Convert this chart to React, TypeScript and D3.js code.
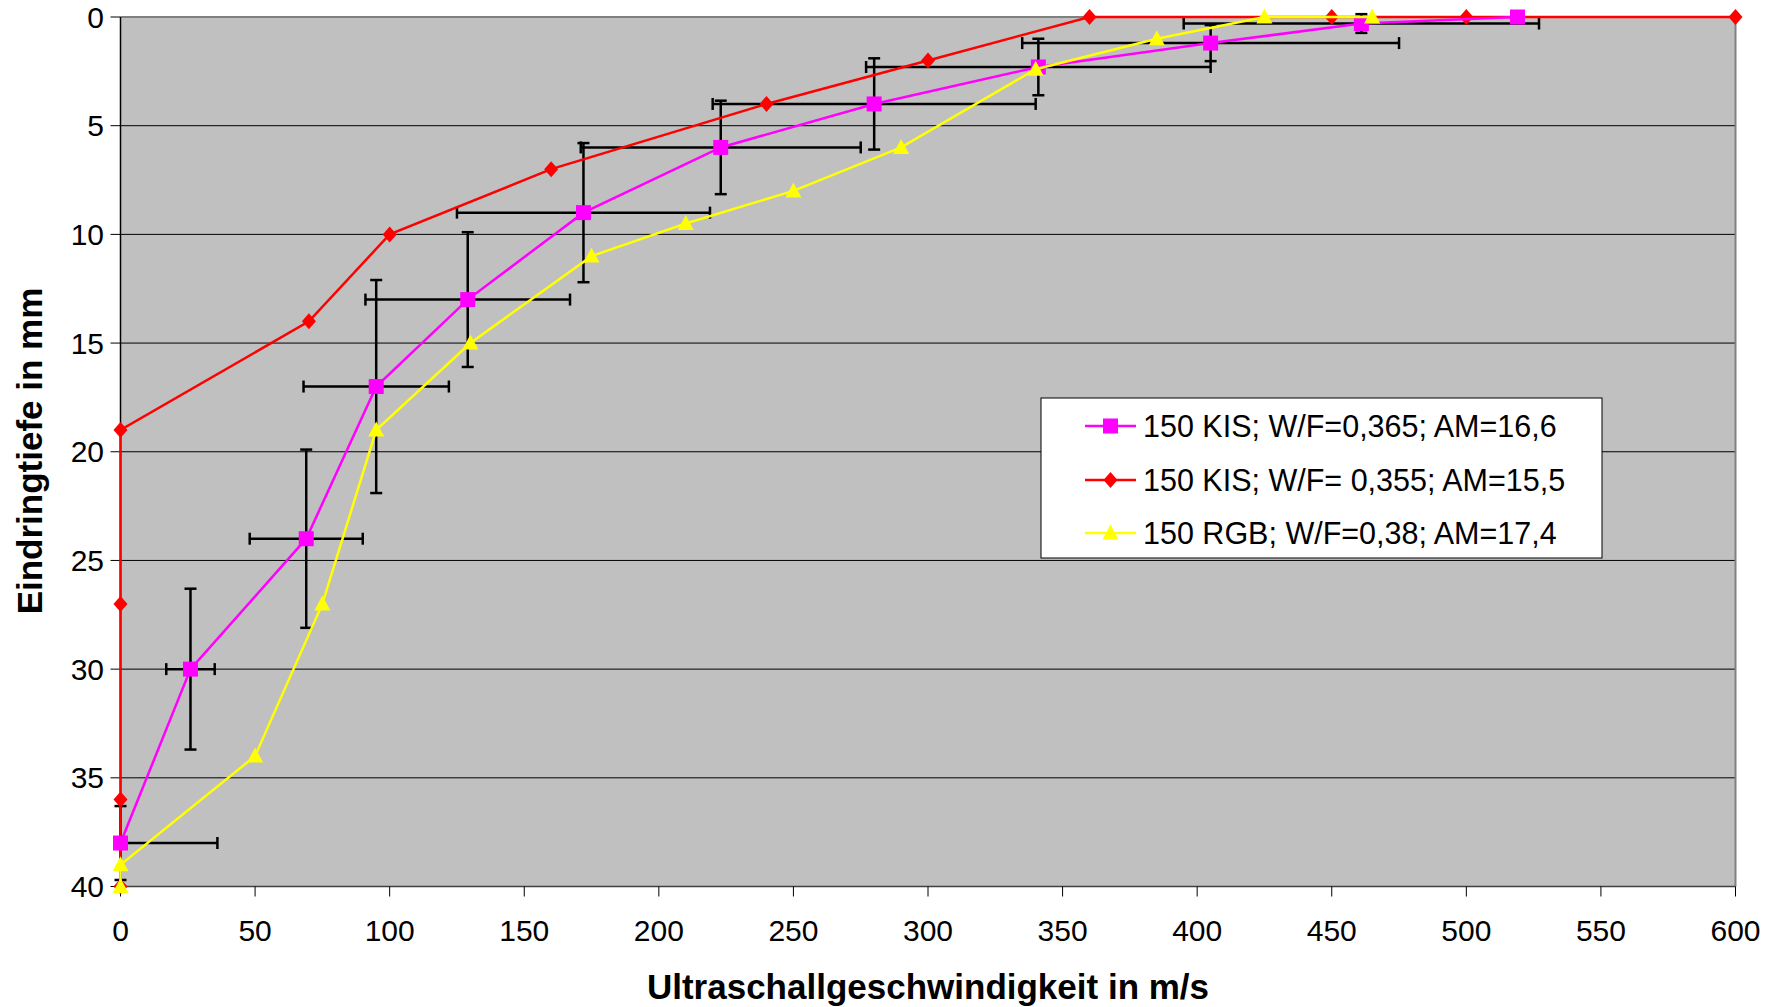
import React from "react";
import * as d3 from "d3";

const W = 1782;
const H = 1007;

const xTicks = [0, 50, 100, 150, 200, 250, 300, 350, 400, 450, 500, 550, 600];
const yTicks = [0, 5, 10, 15, 20, 25, 30, 35, 40];

// 150 KIS; W/F=0,365; AM=16,6 (magenta, with error bars)
const kisAX = [0, 26, 69, 95, 129, 172, 223, 280, 341, 405, 461, 519];
const kisAY = [38, 30, 24, 17, 13, 9, 6, 4, 2.3, 1.2, 0.3, 0];
const kisAErrX = [36, 9, 21, 27, 38, 47, 52, 60, 64, 70, 66, 0];
const kisAErrY = [1.7, 3.7, 4.1, 4.9, 3.1, 3.2, 2.15, 2.1, 1.3, 0.83, 0.43, 0];

// 150 KIS; W/F= 0,355; AM=15,5 (red)
const kisBX = [0, 0, 0, 0, 70, 100, 160, 240, 300, 360, 450, 500, 600];
const kisBY = [40, 36, 27, 19, 14, 10, 7, 4, 2, 0, 0, 0, 0];

// 150 RGB; W/F=0,38; AM=17,4 (yellow)
const rgbX = [0, 0, 50, 75, 95, 130, 175, 210, 250, 290, 340, 385, 425, 465];
const rgbY = [40, 39, 34, 27, 19, 15, 11, 9.5, 8, 6, 2.4, 1, 0, 0];

const legendLabels = [
  "150 KIS; W/F=0,365; AM=16,6",
  "150 KIS; W/F= 0,355; AM=15,5",
  "150 RGB; W/F=0,38; AM=17,4",
];

const FONT = "'Liberation Sans', Arial, sans-serif";

const L = 120.5, R = 1735.5, T = 17, B = 886.5;

function Marker({ kind, cx, cy }: { kind: string; cx: number; cy: number }) {
  if (kind === "square") {
    return <rect x={cx - 7.5} y={cy - 7.5} width={15} height={15} fill="#FF00FF" />;
  }
  if (kind === "diamond") {
    return (
      <path
        d={`M${cx},${cy - 8}L${cx + 7},${cy}L${cx},${cy + 8}L${cx - 7},${cy}Z`}
        fill="#FF0000"
      />
    );
  }
  return (
    <path
      d={`M${cx},${cy - 8.5}L${cx + 8},${cy + 6.5}L${cx - 8},${cy + 6.5}Z`}
      fill="#FFFF00"
    />
  );
}

export default function App() {
  const x = d3.scaleLinear().domain([0, 600]).range([L, R]);
  const y = d3.scaleLinear().domain([0, 40]).range([T, B]);
  const line = d3
    .line<[number, number]>()
    .x((d) => x(d[0]))
    .y((d) => y(d[1]));

  const series = [
    { xs: kisBX, ys: kisBY, color: "#FF0000", kind: "diamond" },
    { xs: kisAX, ys: kisAY, color: "#FF00FF", kind: "square" },
    { xs: rgbX, ys: rgbY, color: "#FFFF00", kind: "triangle" },
  ];
  const legendSeries = [
    { color: "#FF00FF", kind: "square" },
    { color: "#FF0000", kind: "diamond" },
    { color: "#FFFF00", kind: "triangle" },
  ];

  const cap = 6;
  const errBars: JSX.Element[] = [];
  kisAX.forEach((vx, i) => {
    const vy = kisAY[i];
    const ex = kisAErrX[i];
    const ey = kisAErrY[i];
    const px = x(vx), py = y(vy);
    if (ex > 0) {
      const lo = vx - ex;
      const x0 = x(Math.max(0, lo));
      const x1 = x(vx + ex);
      errBars.push(<line key={`hx${i}`} x1={x0} x2={x1} y1={py} y2={py} />);
      if (lo >= 0) errBars.push(<line key={`hl${i}`} x1={x0} x2={x0} y1={py - cap} y2={py + cap} />);
      errBars.push(<line key={`hr${i}`} x1={x1} x2={x1} y1={py - cap} y2={py + cap} />);
    }
    if (ey > 0) {
      const y0 = y(vy - ey);
      const y1 = y(vy + ey);
      errBars.push(<line key={`vy${i}`} x1={px} x2={px} y1={y0} y2={y1} />);
      errBars.push(<line key={`vt${i}`} x1={px - cap} x2={px + cap} y1={y0} y2={y0} />);
      errBars.push(<line key={`vb${i}`} x1={px - cap} x2={px + cap} y1={y1} y2={y1} />);
    }
  });

  const legX = 1041, legY = 398, legW = 561, legH = 160;
  const legRows = [426, 480, 533];

  return (
    <svg
      width={W}
      height={H}
      style={{ position: "absolute", left: 0, top: 0, background: "#fff" }}
      fontFamily={FONT}
    >
      <rect x={L} y={T} width={R - L} height={B - T} fill="#C0C0C0" />
      {yTicks.slice(1, -1).map((t) => (
        <line key={`g${t}`} x1={L} x2={R} y1={y(t)} y2={y(t)} stroke="#000" strokeWidth={1} />
      ))}
      <line x1={L} x2={R} y1={T} y2={T} stroke="#808080" strokeWidth={2} />
      <line x1={R} x2={R} y1={T} y2={B} stroke="#808080" strokeWidth={2} />
      <line x1={L} x2={L} y1={T} y2={B} stroke="#000" strokeWidth={1.5} />
      <line x1={L} x2={R} y1={B} y2={B} stroke="#404040" strokeWidth={1.5} />

      {yTicks.map((t) => (
        <g key={`yt${t}`}>
          <line x1={L - 10} x2={L} y1={y(t)} y2={y(t)} stroke="#000" strokeWidth={1} />
          <text x={104} y={y(t)} dy="0.35em" textAnchor="end" fontSize={30} fill="#000">
            {t}
          </text>
        </g>
      ))}
      {xTicks.map((t) => (
        <g key={`xt${t}`}>
          <line x1={x(t)} x2={x(t)} y1={B} y2={B + 10} stroke="#000" strokeWidth={1} />
          <text x={x(t)} y={930} dy="0.35em" textAnchor="middle" fontSize={30} fill="#000">
            {t}
          </text>
        </g>
      ))}

      <text
        transform="translate(30,451) rotate(-90)"
        textAnchor="middle"
        dy="0.35em"
        fontSize={35}
        fontWeight="bold"
        fill="#000"
      >
        Eindringtiefe in mm
      </text>
      <text x={928} y={987} dy="0.35em" textAnchor="middle" fontSize={35} fontWeight="bold" fill="#000">
        Ultraschallgeschwindigkeit in m/s
      </text>

      <g stroke="#000" strokeWidth={2.5}>{errBars}</g>

      {series.map((s, si) => {
        const pts: [number, number][] = s.xs.map((v, i) => [v, s.ys[i]]);
        return (
          <g key={`s${si}`}>
            <path d={line(pts) || ""} fill="none" stroke={s.color} strokeWidth={2.5} />
            {pts.map((p, i) => (
              <Marker key={i} kind={s.kind} cx={x(p[0])} cy={y(p[1])} />
            ))}
          </g>
        );
      })}

      <rect x={legX} y={legY} width={legW} height={legH} fill="#fff" stroke="#000" strokeWidth={1} />
      {legendSeries.map((s, i) => (
        <g key={`lg${i}`}>
          <line x1={1085} x2={1136} y1={legRows[i]} y2={legRows[i]} stroke={s.color} strokeWidth={2.5} />
          <Marker kind={s.kind} cx={1110.5} cy={legRows[i]} />
          <text x={1143} y={legRows[i]} dy="0.35em" fontSize={30.5} fill="#000">
            {legendLabels[i]}
          </text>
        </g>
      ))}
    </svg>
  );
}
